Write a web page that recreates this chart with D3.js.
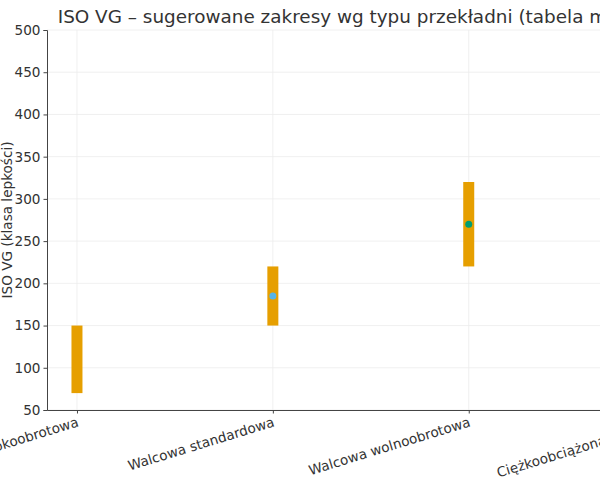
<!DOCTYPE html>
<html>
<head>
<meta charset="utf-8">
<script src="https://cdn.jsdelivr.net/npm/d3@7"></script>
<style>
  body { margin: 0; background: #fff; }
  svg { font-family: "DejaVu Sans", sans-serif; }
</style>
</head>
<body>
<svg id="chart" width="600" height="480"></svg>
<script>
// data
const categories = ["Walcowa szybkoobrotowa", "Walcowa standardowa", "Walcowa wolnoobrotowa", "Ciężkoobciążona udarowa"];
const rangeLow = [70, 150, 220, 320];
const rangeHigh = [150, 220, 320, 460];
const typical = [110, 185, 270, 390];
const pointColors = ["#E69F00", "#56B4E9", "#009E73", "#F0E442"];
const yTicks = [50, 100, 150, 200, 250, 300, 350, 400, 450, 500];

const svg = d3.select("#chart");
const margin = {left: 47, top: 30, bottom: 70};
const plotRight = 694;
const plotBottom = 480 - margin.bottom;

// categorical axis: index positions with a bit of padding like matplotlib
const x = d3.scaleLinear().domain([-0.153, 3.15]).range([margin.left, plotRight]);
const y = d3.scaleLinear().domain([50, 500]).range([plotBottom, margin.top]);

// grid
const grid = svg.append("g").attr("class", "grid");
grid.selectAll("line.h").data(yTicks).enter().append("line")
    .attr("x1", margin.left).attr("x2", plotRight)
    .attr("y1", d => y(d)).attr("y2", d => y(d))
    .attr("stroke", "#ececec").attr("stroke-width", 0.8);
grid.selectAll("line.v").data(categories).enter().append("line")
    .attr("x1", (d, i) => x(i)).attr("x2", (d, i) => x(i))
    .attr("y1", margin.top).attr("y2", plotBottom)
    .attr("stroke", "#ececec").attr("stroke-width", 0.8);

// range bars
svg.append("g").selectAll("rect").data(categories).enter().append("rect")
    .attr("x", (d, i) => x(i) - 5.5)
    .attr("width", 11)
    .attr("y", (d, i) => y(rangeHigh[i]))
    .attr("height", (d, i) => y(rangeLow[i]) - y(rangeHigh[i]))
    .attr("fill", "#E69F00");

// typical values
svg.append("g").selectAll("circle").data(categories).enter().append("circle")
    .attr("cx", (d, i) => x(i))
    .attr("cy", (d, i) => y(typical[i]))
    .attr("r", 3.5)
    .attr("fill", (d, i) => pointColors[i]);

// y axis
const yAxis = svg.append("g")
    .attr("transform", `translate(${margin.left},0)`)
    .call(d3.axisLeft(y).tickValues(yTicks).tickSize(3.5).tickPadding(3));
yAxis.select(".domain").attr("stroke", "#444").attr("stroke-width", 1);
yAxis.selectAll(".tick line").attr("stroke", "#444");
yAxis.selectAll(".tick text").attr("font-size", 13.6).attr("fill", "#333")
    .attr("font-family", "DejaVu Sans, sans-serif");

// x axis
const xAxis = svg.append("g")
    .attr("transform", `translate(0,${plotBottom})`)
    .call(d3.axisBottom(x).tickValues(d3.range(categories.length))
      .tickFormat(i => categories[i]).tickSize(3.5).tickSizeOuter(0));
xAxis.select(".domain").attr("stroke", "#444").attr("stroke-width", 1);
xAxis.selectAll(".tick line").attr("stroke", "#444");
xAxis.selectAll(".tick text")
    .attr("font-size", 13.6).attr("fill", "#333")
    .attr("font-family", "DejaVu Sans, sans-serif")
    .attr("text-anchor", "end")
    .attr("dy", null).attr("y", 0)
    .attr("transform", "translate(2,16) rotate(-17)");

// labels
svg.append("text")
    .attr("x", (margin.left + plotRight) / 2 + 4).attr("y", 23)
    .attr("text-anchor", "middle")
    .attr("font-size", 18.4).attr("fill", "#333")
    .text("ISO VG – sugerowane zakresy wg typu przekładni (tabela modelowa)");

svg.append("text")
    .attr("transform", `translate(12,${(margin.top + plotBottom) / 2}) rotate(-90)`)
    .attr("text-anchor", "middle")
    .attr("font-size", 13.6).attr("fill", "#333")
    .text("ISO VG (klasa lepkości)");
</script>
</body>
</html>
